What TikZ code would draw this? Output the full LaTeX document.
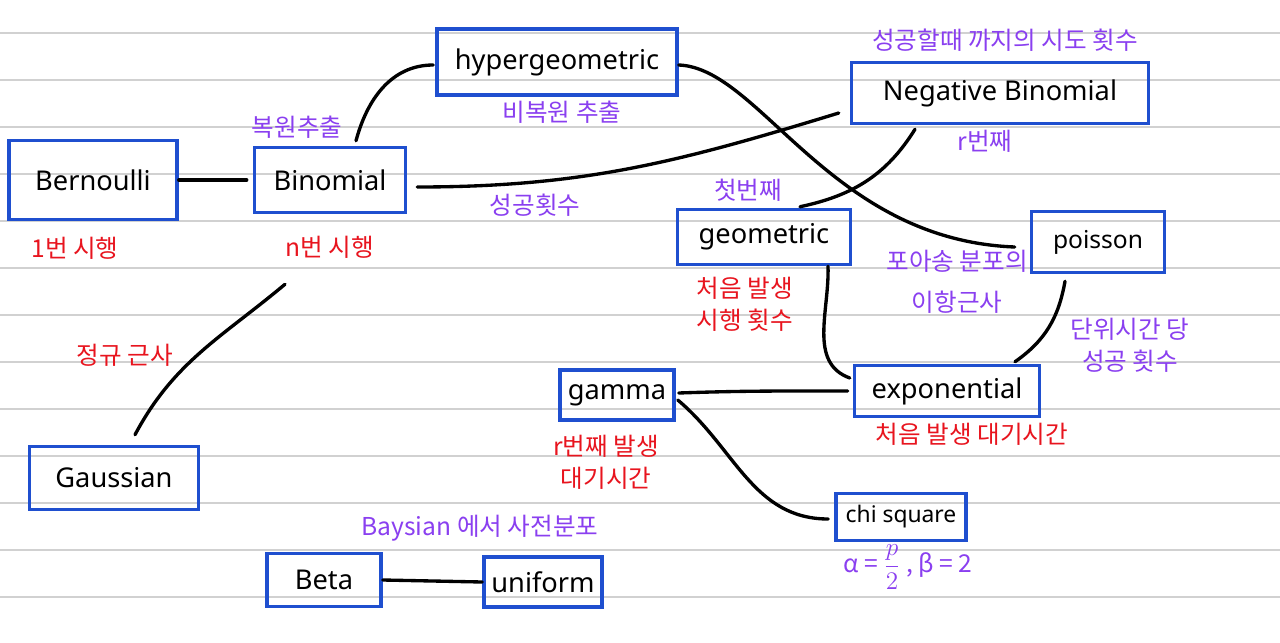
\documentclass[tikz,border=0pt]{standalone}
\usepackage{fontspec}
\setmainfont{Noto Sans}
\newfontfamily\kr{Noto Sans CJK KR}
\usetikzlibrary{calc}
\definecolor{boxblue}{HTML}{1F4FCF}
\definecolor{lblred}{HTML}{E8141E}
\definecolor{lblpur}{HTML}{8A3FF0}
\tikzset{
 dist/.style={draw=boxblue,line width=2pt,inner sep=0pt,font=\fontsize{15.5}{18}\selectfont},
 redlbl/.style={text=lblred,align=center,inner sep=0pt,font=\kr\fontsize{14}{18}\selectfont},
 purlbl/.style={text=lblpur,align=center,inner sep=0pt,font=\kr\fontsize{14}{18}\selectfont},
 link/.style={line width=1.9pt,line cap=round},
}
\begin{document}
\begin{tikzpicture}[x=0.02cm,y=-0.02cm]
 \useasboundingbox[fill=white] (0,0) rectangle (1280,642);
 \foreach \y in {33,80,...,640}{\draw[black!18,line width=.6pt] (0,\y) -- (1280,\y);}
 % distributions
 \node[dist,minimum width=3.36cm,minimum height=1.58cm] (bern) at (93,180) {Bernoulli};
 \node[dist,minimum width=3.02cm,minimum height=1.30cm] (binom) at (330,180) {Binomial};
 \node[dist,minimum width=4.80cm,minimum height=1.32cm] (hyper) at (557,62) {hypergeometric};
 \node[dist,minimum width=5.94cm,minimum height=1.22cm] (negbin) at (1000,93) {Negative Binomial};
 \node[dist,minimum width=3.46cm,minimum height=1.10cm] (geom) at (764,237) {geometric};
 \node[dist,minimum width=2.66cm,minimum height=1.22cm,font=\fontsize{14}{17}\selectfont] (pois) at (1098,242) {poisson};
 \node[dist,minimum width=2.28cm,minimum height=1.00cm] (gam) at (617,395) {gamma};
 \node[dist,minimum width=3.70cm,minimum height=1.02cm] (expo) at (947,391) {exponential};
 \node[dist,minimum width=2.60cm,minimum height=0.94cm,font=\fontsize{13}{16}\selectfont] (chisq) at (901,517) {chi square};
 \node[dist,minimum width=3.38cm,minimum height=1.26cm] (gauss) at (114,478) {Gaussian};
 \node[dist,minimum width=2.28cm,minimum height=1.06cm] (beta) at (324,580) {Beta};
 \node[dist,minimum width=2.36cm,minimum height=1.00cm] (unif) at (543,582) {uniform};
 % notes
 \node[purlbl] (n1) at (1005,40) {성공할때 까지의 시도 횟수};
 \node[purlbl] (n2) at (297,127) {복원추출};
 \node[purlbl] (n3) at (562,112) {비복원 추출};
 \node[redlbl] (n4) at (75,248) {1번 시행};
 \node[redlbl] (n5) at (330,247) {n번 시행};
 \node[purlbl] (n6) at (535,205) {성공횟수};
 \node[purlbl] (n7) at (985,141) {r번째};
 \node[purlbl] (n8) at (748,190) {첫번째};
 \node[redlbl] (n9) at (745,304) {처음 발생\\시행 횟수};
 \node[purlbl,font=\kr\fontsize{14}{23}\selectfont] (n10) at (957,282) {포아송 분포의\\이항근사};
 \node[purlbl] (n11) at (1130,345) {단위시간 당\\성공 횟수};
 \node[redlbl] (n12) at (125,355) {정규 근사};
 \node[redlbl] (n13) at (606,462) {r번째 발생\\대기시간};
 \node[redlbl] (n14) at (972,434) {처음 발생 대기시간};
 \node[purlbl] (n15) at (480,528) {Baysian 에서 사전분포};
 \node[purlbl] (n16) at (908,567) {α = $\displaystyle\frac{p}{2}$ , β = 2};
 % links
 \draw[link] (bern.east) -- ($(binom.west)+(-6,0)$);
 \draw[link] ($(binom.north)+(26,-5)$) to[out=75,in=180] ($(hyper.west)+(-2,3)$);
 \draw[link] ($(binom.east)+(10,7)$) to[out=0,in=197] ($(negbin.west)+(-11,20)$);
 \draw[link] ($(hyper.east)+(0,3)$) .. controls (760,68) and (830,240) .. ($(pois.west)+(-15,5)$);
 \draw[link] ($(negbin.south)+(-85,4)$) to[out=-122,in=12] ($(geom.north)+(36,-1)$);
 \draw[link] ($(geom.south)+(64,0)$) to[out=-88,in=160] ($(expo.west)+(-3,-13)$);
 \draw[link] ($(pois.south)+(-33,7)$) to[out=-100,in=35] ($(expo.north)+(68,-2)$);
 \draw[link] ($(gam.east)+(3,-2)$) to[out=2,in=180] ($(expo.west)+(-5,0)$);
 \draw[link] ($(gam.east)+(2,5)$) to[out=-40,in=180] ($(chisq.west)+(-6,2)$);
 \draw[link] ($(binom.south)+(-45,70)$) to[out=-140,in=62] ($(gauss.north)+(21,-10)$);
 \draw[link] (beta.east) -- (unif.west);
\end{tikzpicture}
\end{document}
